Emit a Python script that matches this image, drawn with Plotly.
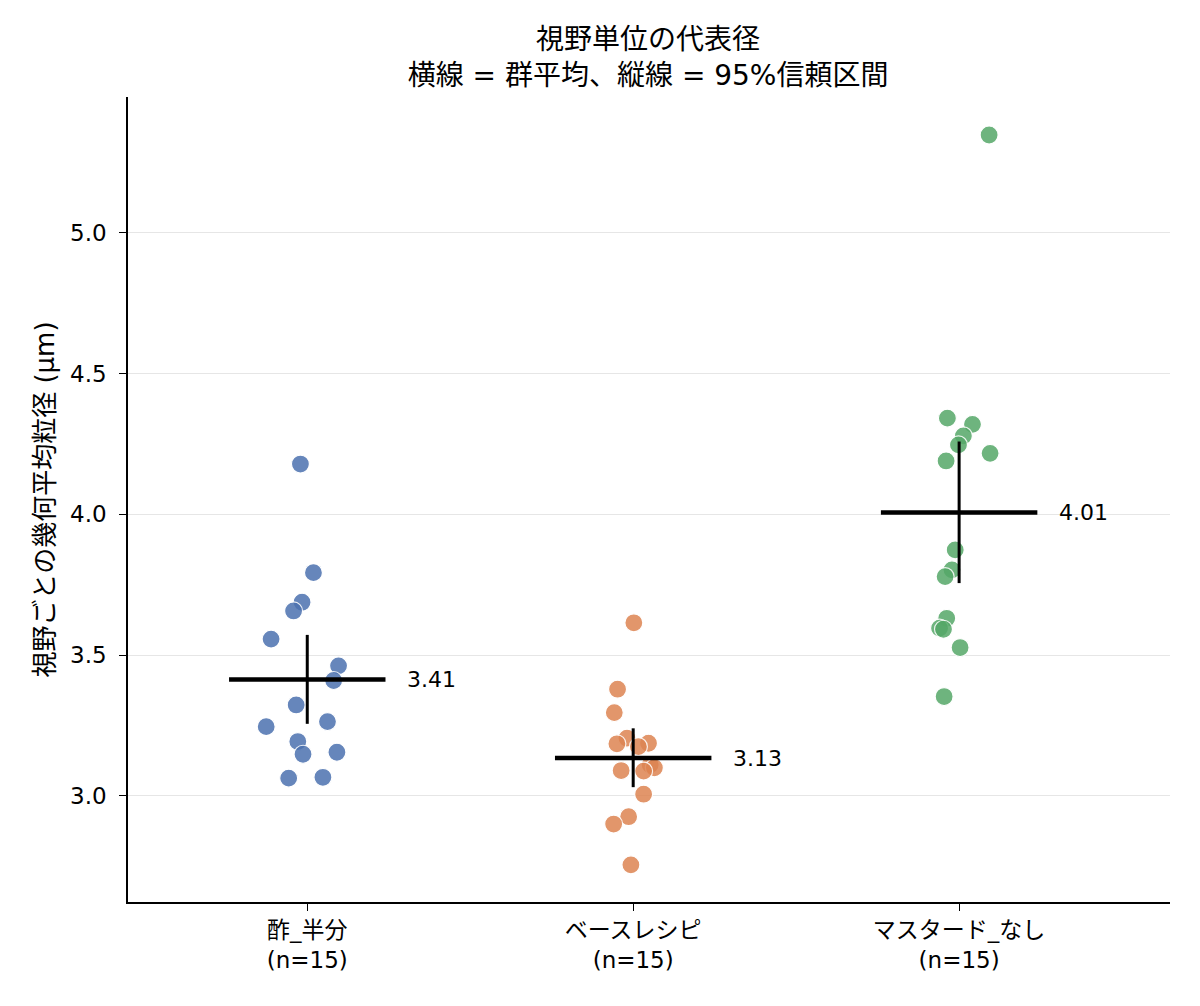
import numpy as np
import plotly.graph_objects as go

categories = ["酢_半分", "ベースレシピ", "マスタード_なし"]
n_labels = ["(n=15)", "(n=15)", "(n=15)"]
colors = ["#4C72B0", "#DD8452", "#55A868"]

vals_su = [4.179, 3.793, 3.688, 3.657, 3.557, 3.462, 3.410, 3.323, 3.246,
           3.264, 3.193, 3.148, 3.155, 3.063, 3.066]
jit_su = [-0.021, 0.019, -0.016, -0.042, -0.111, 0.096, 0.081, -0.034, -0.126,
          0.062, -0.029, -0.013, 0.091, -0.057, 0.048]

vals_base = [3.615, 3.379, 3.296, 3.205, 3.185, 3.187, 3.175, 3.110, 3.100,
             3.088, 3.090, 3.006, 2.926, 2.900, 2.755]
jit_base = [0.002, -0.048, -0.058, -0.019, -0.050, 0.047, 0.016, 0.052, 0.065,
            0.032, -0.037, 0.032, -0.014, -0.060, -0.007]

vals_mus = [5.348, 4.342, 4.320, 4.279, 4.247, 4.217, 4.190, 3.874, 3.803,
            3.779, 3.631, 3.596, 3.592, 3.527, 3.353]
jit_mus = [0.092, -0.036, 0.041, 0.013, -0.002, 0.095, -0.040, -0.012, -0.022,
           -0.043, -0.038, -0.060, -0.048, 0.003, -0.046]

ci_low = [3.256, 3.031, 3.756]
ci_high = [3.572, 3.240, 4.259]

groups = [(vals_su, jit_su), (vals_base, jit_base), (vals_mus, jit_mus)]

FONT = "DejaVu Sans, Noto Sans CJK JP"
fig = go.Figure()

for i, (vals, jit) in enumerate(groups):
    fig.add_trace(go.Scatter(
        x=[i + j for j in jit], y=vals, mode="markers",
        marker=dict(size=18, color=colors[i], opacity=0.85,
                    line=dict(color="white", width=1.2)),
        showlegend=False, hoverinfo="y"))

for i, (vals, jit) in enumerate(groups):
    m = float(np.mean(vals))
    fig.add_trace(go.Scatter(x=[i - 0.24, i + 0.24], y=[m, m], mode="lines",
                             line=dict(color="black", width=4.5),
                             showlegend=False, hoverinfo="skip"))
    fig.add_trace(go.Scatter(x=[i, i], y=[ci_low[i], ci_high[i]], mode="lines",
                             line=dict(color="black", width=3),
                             showlegend=False, hoverinfo="skip"))
    fig.add_annotation(x=i + 0.30, y=m, text=f"{m:.2f}", showarrow=False,
                       xanchor="left", yanchor="middle",
                       font=dict(family=FONT, size=22, color="black"))

fig.update_layout(
    width=1192, height=998,
    margin=dict(l=120, r=30, t=89, b=104),
    plot_bgcolor="white", paper_bgcolor="white",
    font=dict(family=FONT, size=22, color="black"),
    title=dict(text="視野単位の代表径<br>横線 = 群平均、縦線 = 95%信頼区間",
               x=0.537, xanchor="center", y=0.959, yanchor="middle",
               font=dict(family=FONT, size=28, color="black")),
    xaxis=dict(range=[-0.55, 2.647], tickmode="array", tickvals=[0, 1, 2],
               ticktext=[f"{c}<br>{n}" for c, n in zip(categories, n_labels)],
               showline=True, linecolor="black", linewidth=1.5,
               ticks="outside", ticklen=7, tickcolor="black", showgrid=False,
               zeroline=False, automargin=False,
               tickfont=dict(family=FONT, size=23)),
    yaxis=dict(range=[2.623, 5.483], tickvals=[3.0, 3.5, 4.0, 4.5, 5.0],
               ticktext=["3.0", "3.5", "4.0", "4.5", "5.0"],
               showline=True, linecolor="black", linewidth=1.5,
               ticks="outside", ticklen=7, tickcolor="black",
               ticklabelstandoff=8,
               showgrid=True, gridcolor="#e6e6e6", gridwidth=1.2,
               zeroline=False, automargin=False,
               tickfont=dict(family=FONT, size=23),
               title=dict(text="視野ごとの幾何平均粒径 (μm)", standoff=8,
                          font=dict(family=FONT, size=26))),
)

fig.write_html("out.html")
